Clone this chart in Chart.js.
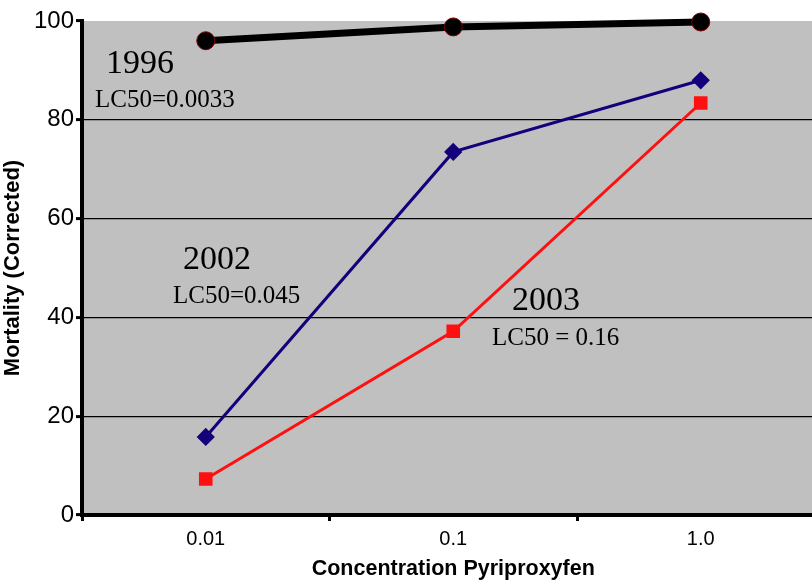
<!DOCTYPE html>
<html>
<head>
<meta charset="utf-8">
<script src="https://cdn.jsdelivr.net/npm/chart.js@4/dist/chart.umd.min.js"></script>
<style>
  html { overflow: hidden; }
  html, body { margin: 0; padding: 0; background: #fff; }
  #wrap { width: 835px; height: 582px; }
</style>
</head>
<body>
<div id="wrap"><canvas id="chart" width="835" height="582"></canvas></div>
<script>
// data
const concentrations = ['0.01', '0.1', '1.0'];
const yr1996 = [96.0, 98.8, 99.8];
const yr2002 = [15.8, 73.5, 88.0];
const yr2003 = [7.3, 37.2, 83.4];
const yTicks = [0, 20, 40, 60, 80, 100];

// text notes: [text, x, y, size]
const notes = [
    ['1996', 106, 73, 34],
    ['LC50=0.0033', 95, 107, 25],
    ['2002', 183, 269, 34],
    ['LC50=0.045', 173, 303, 25],
    ['2003', 512, 310, 34],
    ['LC50 = 0.16', 492, 345, 25]
];

const plotBg = {
    id: 'plotBg',
    beforeDraw(chart) {
        const a = chart.chartArea;
        const ctx = chart.ctx;
        ctx.save();
        ctx.fillStyle = '#c0c0c0';
        ctx.fillRect(a.left, a.top, a.right - a.left, a.bottom - a.top);
        ctx.restore();
    }
};

const noteText = {
    id: 'noteText',
    afterDraw(chart) {
        const ctx = chart.ctx;
        ctx.save();
        ctx.fillStyle = '#000';
        ctx.textAlign = 'left';
        ctx.textBaseline = 'alphabetic';
        notes.forEach(n => {
            ctx.font = n[3] + 'px "Liberation Serif", "Times New Roman", serif';
            ctx.fillText(n[0], n[1], n[2]);
        });
        ctx.restore();
    }
};

const ctx = document.getElementById('chart').getContext('2d');
new Chart(ctx, {
    type: 'line',
    data: {
        labels: concentrations,
        datasets: [{
            label: '1996',
            data: yr1996,
            borderColor: '#000',
            borderWidth: 7,
            pointStyle: 'circle',
            pointRadius: 9,
            pointBackgroundColor: '#000',
            pointBorderColor: '#800000',
            pointBorderWidth: 1
        }, {
            label: '2002',
            data: yr2002,
            borderColor: '#14007a',
            borderWidth: 3,
            pointStyle: 'rectRot',
            pointRadius: 7,
            pointBackgroundColor: '#14007a',
            pointBorderColor: '#14007a'
        }, {
            label: '2003',
            data: yr2003,
            borderColor: '#ff1010',
            borderWidth: 3,
            pointStyle: 'rect',
            pointRadius: 7.5,
            pointBackgroundColor: '#ff1010',
            pointBorderColor: '#ff1010'
        }]
    },
    options: {
        responsive: false,
        animation: false,
        clip: false,
        layout: { padding: { top: 21, right: 0, bottom: 0, left: 0 } },
        plugins: {
            legend: { display: false },
            tooltip: { enabled: false }
        },
        scales: {
            x: {
                offset: true,
                grid: {
                    offset: true,
                    drawOnChartArea: false,
                    tickLength: 6,
                    tickColor: '#000',
                    tickWidth: 3
                },
                border: { color: '#000', width: 4 },
                ticks: {
                    color: '#000',
                    padding: 6,
                    font: { family: '"Liberation Sans", Arial, sans-serif', size: 20 }
                },
                title: {
                    display: true,
                    text: 'Concentration Pyriproxyfen',
                    color: '#000',
                    padding: { top: 2, bottom: 0 },
                    font: { family: '"Liberation Sans", Arial, sans-serif', size: 21.5, weight: 'bold' }
                },
                afterFit(scale) { scale.height = 67; }
            },
            y: {
                min: 0,
                max: 100,
                afterBuildTicks(scale) { scale.ticks = yTicks.map(v => ({ value: v })); },
                grid: {
                    color: c => (c.tick && c.tick.value > 0 && c.tick.value < 100) ? '#000' : 'rgba(0,0,0,0)',
                    lineWidth: 1.2,
                    tickLength: 6,
                    tickColor: '#000',
                    tickWidth: 3
                },
                border: { color: '#000', width: 4 },
                ticks: {
                    color: '#000',
                    padding: 2,
                    font: { family: '"Liberation Sans", Arial, sans-serif', size: 24 }
                },
                title: {
                    display: true,
                    text: 'Mortality (Corrected)',
                    color: '#000',
                    padding: { top: 0, bottom: 0 },
                    font: { family: '"Liberation Sans", Arial, sans-serif', size: 22, weight: 'bold' }
                },
                afterFit(scale) { scale.width = 82; }
            }
        }
    },
    plugins: [plotBg, noteText]
});
</script>
</body>
</html>
